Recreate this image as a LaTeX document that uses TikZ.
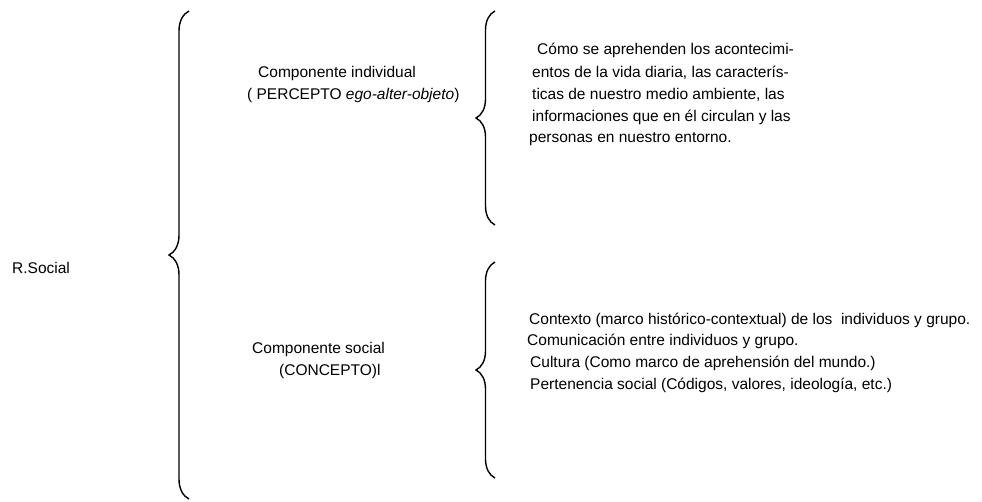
\documentclass[tikz,border=0pt]{standalone}
\usepackage{fontspec}
\setmainfont{Liberation Sans}
\usetikzlibrary{positioning,decorations.pathreplacing}

\tikzset{
  txt/.style={anchor=west, inner sep=0pt, font=\fontsize{15.5}{18}\selectfont},
  curly/.style={line width=1.4pt, decorate, decoration={brace, amplitude=#1}},
}

\begin{document}
\begin{tikzpicture}[x=1pt,y=-1pt]
\useasboundingbox (0,0) rectangle (982,501);

\draw[curly=20pt] (189,499) -- (189,11);
\draw[curly=19pt] (495,225) -- (495,11);
\draw[curly=19pt] (495,478) -- (495,262);

\node[txt] (rs) at (12,268) {R.Social};

\node[txt] (ci) at (258,73) {Componente individual};
\node[txt] (cip) at (247,95) {( PERCEPTO \textit{ego-alter-objeto})};

\node[txt] (p1) at (537,50) {Cómo se aprehenden los acontecimi-};
\node[txt] (p2) at (532,73) {entos de la vida diaria, las caracterís-};
\node[txt] (p3) at (532,95) {ticas de nuestro medio ambiente, las};
\node[txt] (p4) at (532,117) {informaciones que en él circulan y las};
\node[txt] (p5) at (529,139) {personas en nuestro entorno.};

\node[txt] (cs) at (252,349) {Componente social};
\node[txt] (csp) at (279,371) {(CONCEPTO)l};

\node[txt] (s1) at (529,320) {Contexto (marco histórico-contextual) de los~ individuos y grupo.};
\node[txt] (s2) at (527,341) {Comunicación entre individuos y grupo.};
\node[txt] (s3) at (530,363) {Cultura (Como marco de aprehensión del mundo.)};
\node[txt] (s4) at (530,385) {Pertenencia social (Códigos, valores, ideología, etc.)};

\end{tikzpicture}
\end{document}
